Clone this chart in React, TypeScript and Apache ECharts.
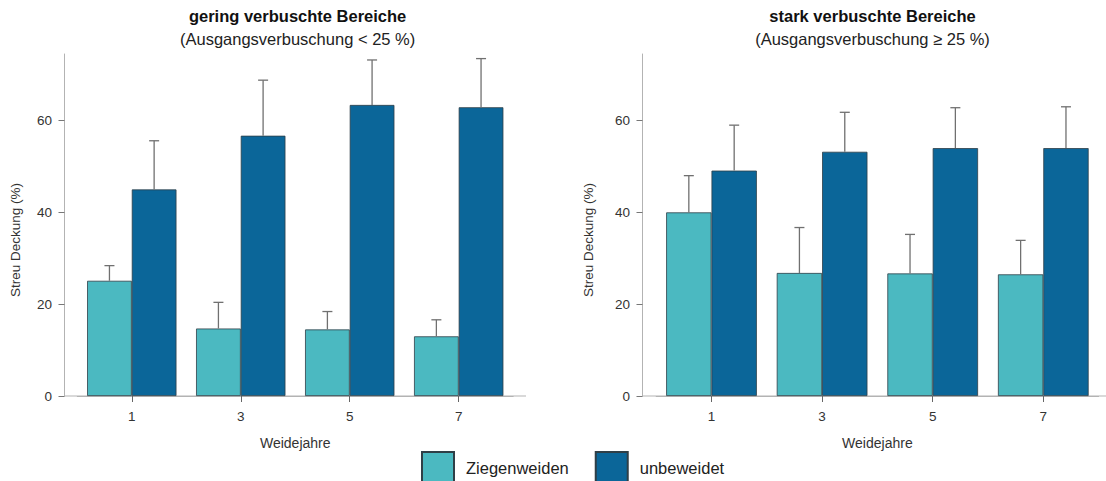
import React, { useEffect, useRef } from "react";
import * as echarts from "echarts";

const categories = ["1", "3", "5", "7"];
const seriesNames = ["Ziegenweiden", "unbeweidet"];
const yTicks = [0, 20, 40, 60];

// left panel: gering verbuschte Bereiche
const leftZiegen = [25.1, 14.7, 14.5, 13.0];
const leftZiegenErr = [3.3, 5.7, 3.9, 3.6];
const leftUnbew = [45.0, 56.7, 63.4, 62.9];
const leftUnbewErr = [10.6, 12.1, 9.8, 10.6];

// right panel: stark verbuschte Bereiche
const rightZiegen = [40.0, 26.8, 26.7, 26.5];
const rightZiegenErr = [8.0, 9.9, 8.5, 7.4];
const rightUnbew = [49.1, 53.2, 54.0, 54.0];
const rightUnbewErr = [9.9, 8.6, 8.8, 9.0];

const COLORS = ["#4bb9c1", "#0b6699"];
const GAP = 0.18;
const FONT = "'Liberation Sans', Arial, Helvetica, sans-serif";

export default function App() {
  const ref = useRef<HTMLDivElement>(null);
  useEffect(() => {
    if (!ref.current) return;
    const chart = echarts.init(ref.current, undefined, { renderer: "svg" });

    const errRender = (side: number) => (params: any, api: any) => {
      const ci = api.value(0);
      const v = api.value(1);
      const e = api.value(2);
      const band = api.size([1, 0])[0];
      const bw = (band * (1 - GAP)) / 2;
      const base = api.coord([ci, v]);
      const top = api.coord([ci, v + e]);
      const x = base[0] + (side * bw) / 2;
      const style = { stroke: "#707070", lineWidth: 1.3 };
      return {
        type: "group",
        children: [
          { type: "line", shape: { x1: x, y1: base[1], x2: x, y2: top[1] }, style },
          { type: "line", shape: { x1: x - 5, y1: top[1], x2: x + 5, y2: top[1] }, style },
        ],
      };
    };

    const grids = [
      { left: 77.3, top: 54, width: 435.9, height: 342 },
      { left: 656.2, top: 54, width: 442.4, height: 342 },
    ];
    const offsets = [12.8, 13.7];
    const nameGaps = [42, 47.5];

    const panels = [
      { z: leftZiegen, ze: leftZiegenErr, u: leftUnbew, ue: leftUnbewErr },
      { z: rightZiegen, ze: rightZiegenErr, u: rightUnbew, ue: rightUnbewErr },
    ];

    const series: any[] = [];
    panels.forEach((p, gi) => {
      [p.z, p.u].forEach((vals, si) => {
        series.push({
          type: "bar",
          name: seriesNames[si],
          xAxisIndex: gi,
          yAxisIndex: gi,
          data: vals,
          barGap: "0%",
          barCategoryGap: GAP * 100 + "%",
          itemStyle: { color: COLORS[si], borderColor: "#2f3f47", borderWidth: 0.8 },
        });
      });
      [
        [p.z, p.ze],
        [p.u, p.ue],
      ].forEach(([vals, errs], si) => {
        series.push({
          type: "custom",
          name: "err" + gi + si,
          xAxisIndex: gi,
          yAxisIndex: gi,
          renderItem: errRender(si === 0 ? -1 : 1),
          encode: { x: 0, y: 1 },
          data: vals.map((v, i) => [i, v, errs[i]]),
          z: 5,
          silent: true,
        });
      });
    });

    const axisLineColor = "#b3b3b3";

    chart.setOption({
      animation: false,
      textStyle: { fontFamily: FONT },
      title: [
        {
          text: "gering verbuschte Bereiche",
          subtext: "(Ausgangsverbuschung < 25 %)",
          left: 297.6,
          top: 7.75,
          textAlign: "center",
          padding: 0,
          itemGap: 6,
          textStyle: { fontSize: 16.5, fontWeight: "bold", color: "#111", fontFamily: FONT },
          subtextStyle: { fontSize: 16.5, color: "#222", fontFamily: FONT },
        },
        {
          text: "stark verbuschte Bereiche",
          subtext: "(Ausgangsverbuschung ≥ 25 %)",
          left: 872.5,
          top: 7.75,
          textAlign: "center",
          padding: 0,
          itemGap: 6,
          textStyle: { fontSize: 16.5, fontWeight: "bold", color: "#111", fontFamily: FONT },
          subtextStyle: { fontSize: 16.5, color: "#222", fontFamily: FONT },
        },
      ],
      legend: {
        data: seriesNames,
        left: 421,
        top: 451,
        icon: "rect",
        itemWidth: 32,
        itemHeight: 32,
        itemGap: 26,
        padding: 0,
        textStyle: { fontSize: 16.5, color: "#222", fontFamily: FONT, padding: [0, 0, 0, 7] },
        selectedMode: false,
      },
      grid: grids,
      xAxis: grids.map((_, gi) => ({
        type: "category",
        gridIndex: gi,
        data: categories,
        axisLine: { show: true, lineStyle: { color: axisLineColor, width: 1 } },
        axisTick: { show: true, alignWithLabel: true, length: 6, lineStyle: { color: "#666" } },
        axisLabel: { margin: 13, fontSize: 13.5, color: "#333", fontFamily: FONT },
        name: "Weidejahre",
        nameLocation: "middle",
        nameGap: 40,
        nameTextStyle: { fontSize: 14, color: "#333", fontFamily: FONT },
      })),
      yAxis: grids.map((_, gi) => ({
        type: "value",
        gridIndex: gi,
        min: 0,
        max: 74.5,
        offset: offsets[gi],
        splitLine: { show: false },
        axisLine: { show: true, lineStyle: { color: axisLineColor, width: 1 } },
        axisTick: { show: true, length: 6, customValues: yTicks, lineStyle: { color: "#777" } },
        axisLabel: { margin: 12.5, fontSize: 13.5, color: "#333", customValues: yTicks, fontFamily: FONT },
        name: "Streu Deckung (%)",
        nameLocation: "middle",
        nameGap: nameGaps[gi],
        nameRotate: 90,
        nameTextStyle: { fontSize: 13.5, color: "#333", fontFamily: FONT, padding: [0, 30, 0, 0] },
      })),
      graphic: [
        { type: "line", shape: { x1: 64.5, y1: 396, x2: 526, y2: 396 }, style: { stroke: axisLineColor, lineWidth: 1 }, silent: true },
        { type: "line", shape: { x1: 642.5, y1: 396, x2: 1106, y2: 396 }, style: { stroke: axisLineColor, lineWidth: 1 }, silent: true },
      ],
      series,
    });

    return () => chart.dispose();
  }, []);

  return (
    <div
      ref={ref}
      style={{ position: "fixed", left: 0, top: 0, width: 1106, height: 481, background: "#fff" }}
    />
  );
}
